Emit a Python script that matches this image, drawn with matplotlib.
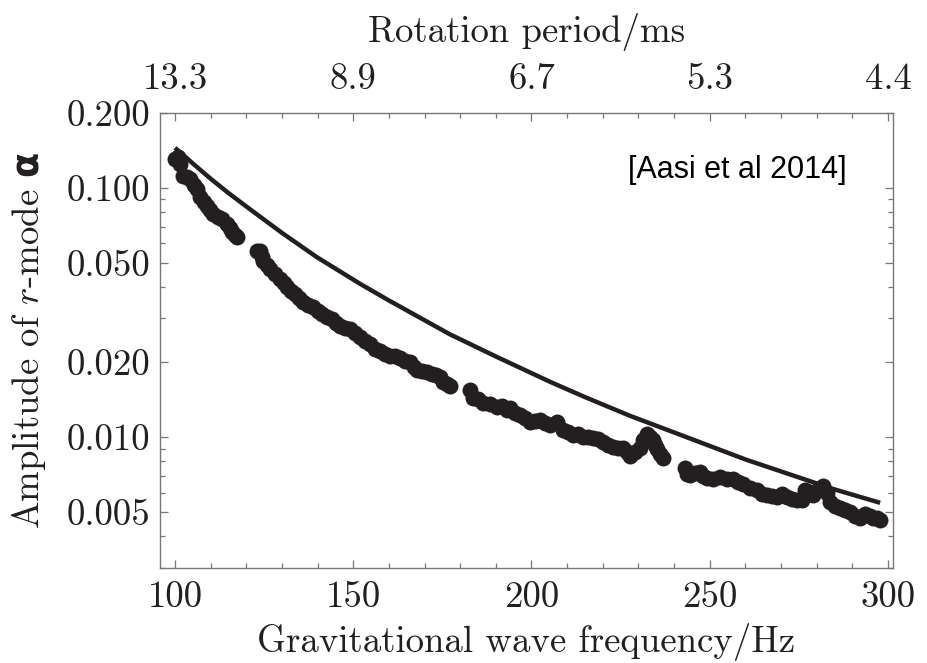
import matplotlib
matplotlib.use('Agg')
import matplotlib.pyplot as plt
from matplotlib.ticker import FixedLocator, FixedFormatter, NullFormatter

# ---- data ----
freq = [100.0, 100.8, 101.4, 102.2, 103.4, 104.2, 105.3, 106.2, 107.0, 108.1,
        109.0, 109.8, 110.7, 112.1, 113.2, 114.6, 115.4, 116.0, 116.8, 117.4,
        123.0, 123.8, 124.4, 124.7, 125.8, 126.6, 128.1, 129.5, 130.6, 131.4,
        132.5, 133.7, 134.8, 135.9, 137.3, 138.7, 140.1, 141.2, 142.6, 144.0,
        145.2, 146.3, 147.7, 149.1, 150.5, 151.9, 153.3, 154.7, 156.1, 157.5,
        158.9, 160.3, 161.7, 163.1, 164.5, 165.9, 167.0, 167.9, 169.3, 170.7,
        172.1, 173.2, 174.3, 175.2, 176.3, 177.1,
        182.7, 183.6, 185.0, 186.4, 188.4, 190.3, 191.7, 193.1, 194.0, 195.4,
        196.8, 198.2, 199.6, 201.0, 202.4, 203.8, 205.2, 207.2, 208.8, 210.2,
        211.6, 213.0, 214.4, 215.8, 217.3, 218.7, 220.1, 221.5, 222.9, 224.3,
        225.7, 226.8, 227.6, 229.0, 230.4, 231.3, 232.4, 233.2, 234.1, 234.6,
        235.2, 236.0, 236.9,
        243.1, 243.7, 244.5, 245.9, 247.3, 248.2, 249.2, 250.9, 252.9, 254.9,
        256.5, 257.9, 259.3, 261.3, 263.3, 264.7, 266.1, 267.5, 268.9, 270.3,
        271.7, 273.1, 274.5, 275.9, 276.7, 278.1, 279.0, 280.4, 281.8, 282.9,
        283.7, 285.1, 286.5, 287.9, 289.3, 290.7, 292.1, 293.5, 294.9, 295.8,
        296.9, 297.8]
amp = [0.1308, 0.1332, 0.1249, 0.1117, 0.1107, 0.1087, 0.1028, 0.0991, 0.0920, 0.0878,
       0.0847, 0.0816, 0.0786, 0.0765, 0.0751, 0.0717, 0.0691, 0.0666, 0.0647, 0.0635,
       0.0558, 0.0558, 0.0528, 0.0509, 0.0490, 0.0472, 0.0451, 0.0431, 0.0415, 0.0400,
       0.0385, 0.0375, 0.0361, 0.0348, 0.0338, 0.0332, 0.0320, 0.0311, 0.0303, 0.0297,
       0.0287, 0.0279, 0.0274, 0.0271, 0.0261, 0.0252, 0.0243, 0.0236, 0.0227, 0.0221,
       0.0215, 0.0211, 0.0211, 0.0209, 0.0203, 0.0200, 0.0192, 0.0187, 0.0185, 0.0182,
       0.0179, 0.0177, 0.0175, 0.0166, 0.0164, 0.0160,
       0.01555, 0.01444, 0.01418, 0.01379, 0.01354, 0.01329, 0.01341, 0.01292, 0.01316, 0.01257,
       0.01234, 0.01200, 0.01157, 0.01167, 0.01178, 0.01146, 0.01125, 0.01157, 0.01074, 0.01054,
       0.01025, 0.01035, 0.01006, 0.01006, 0.00997, 0.00988, 0.00961, 0.00935, 0.00918, 0.00909,
       0.00909, 0.00876, 0.00844, 0.00876, 0.00909, 0.00979, 0.01035, 0.01006, 0.00979, 0.00935,
       0.00901, 0.00860, 0.00829,
       0.00755, 0.00715, 0.00708, 0.00721, 0.00728, 0.00702, 0.00689, 0.00682, 0.00695, 0.00682,
       0.00682, 0.00664, 0.00651, 0.00628, 0.00616, 0.00594, 0.00588, 0.00583, 0.00578, 0.00594,
       0.00578, 0.00567, 0.00562, 0.00562, 0.00616, 0.00605, 0.00588, 0.00616, 0.00639, 0.00599,
       0.00551, 0.00531, 0.00522, 0.00512, 0.00503, 0.00484, 0.00476, 0.00493, 0.00484, 0.00476,
       0.00476, 0.00467]

curve_freq = [100.0, 105.0, 110.0, 115.0, 121.0, 130.0, 139.8, 151.9, 160.0, 177.1,
              190.0, 205.2, 215.0, 227.6, 247.3, 260.0, 269.7, 285.0, 297.8]
curve_amp = [0.145, 0.1255, 0.109, 0.0955, 0.0823, 0.0661, 0.0528, 0.0413, 0.0354, 0.0259,
             0.0211, 0.0167, 0.0145, 0.0122, 0.00955, 0.00815, 0.00732, 0.00618, 0.00546]

x_ticks = [100, 150, 200, 250, 300]
x_ticklabels = ['100', '150', '200', '250', '300']
period_labels = ['13.3', '8.9', '6.7', '5.3', '4.4']
y_ticks = [0.005, 0.01, 0.02, 0.05, 0.1, 0.2]
y_ticklabels = ['0.005', '0.010', '0.020', '0.050', '0.100', '0.200']
y_minor = [0.003, 0.004, 0.006, 0.007, 0.008, 0.009, 0.03, 0.04, 0.06, 0.07, 0.08, 0.09]
x_minor = list(range(100, 301, 10))

# ---- style ----
plt.rcParams['font.family'] = ['cmr10', 'DejaVu Sans']
plt.rcParams['mathtext.fontset'] = 'custom'
plt.rcParams['mathtext.rm'] = 'cmr10'
plt.rcParams['mathtext.it'] = 'cmmi10'
plt.rcParams['mathtext.sf'] = 'DejaVu Sans:bold'
plt.rcParams['axes.unicode_minus'] = False

ink = '#231f20'
frame = '#777777'
fs = 26.5

fig = plt.figure(figsize=(9.28, 6.63), dpi=100)
ax = fig.add_axes([160/928, 1-568/663, (893-160)/928, (568-113)/663])

ax.plot(curve_freq, curve_amp, color=ink, lw=3.2, zorder=2, solid_capstyle='butt')
ax.plot(freq, amp, 'o', color=ink, ms=11.5, mec='none', zorder=3)

ax.set_yscale('log')
ax.set_xlim(95.8, 301.4)
ax.set_ylim(0.00299, 0.2)

ax.xaxis.set_major_locator(FixedLocator(x_ticks))
ax.xaxis.set_major_formatter(FixedFormatter(x_ticklabels))
ax.xaxis.set_minor_locator(FixedLocator(x_minor))
ax.xaxis.set_minor_formatter(NullFormatter())
ax.yaxis.set_major_locator(FixedLocator(y_ticks))
ax.yaxis.set_major_formatter(FixedFormatter(y_ticklabels))
ax.yaxis.set_minor_locator(FixedLocator(y_minor))
ax.yaxis.set_minor_formatter(NullFormatter())

for sp in ax.spines.values():
    sp.set_color(frame)
    sp.set_linewidth(1.0)

ax.tick_params(which='both', direction='in', color=frame, width=0.9,
               right=True, labelsize=fs, labelcolor=ink)
ax.tick_params(which='major', length=6)
ax.tick_params(which='minor', length=3.5)
ax.tick_params(axis='x', pad=9)
ax.tick_params(axis='y', pad=7)

# top axis: rotation period
ax2 = ax.twiny()
ax2.set_xlim(ax.get_xlim())
ax2.xaxis.set_major_locator(FixedLocator(x_ticks))
ax2.xaxis.set_major_formatter(FixedFormatter(period_labels))
ax2.xaxis.set_minor_locator(FixedLocator(x_minor))
ax2.xaxis.set_minor_formatter(NullFormatter())
ax2.tick_params(which='both', direction='in', color=frame, width=0.9,
                labelsize=fs, labelcolor=ink, pad=12)
ax2.tick_params(which='major', length=6)
ax2.tick_params(which='minor', length=3.5)
for sp in ax2.spines.values():
    sp.set_visible(False)

ax.set_xlabel('Gravitational wave frequency/Hz', fontsize=fs, color=ink, labelpad=7)
ax2.set_xlabel('Rotation period/ms', fontsize=fs, color=ink, labelpad=15)
ax.set_ylabel('Amplitude of $r$-mode $\\mathsf{\\alpha}$', fontsize=fs, color=ink, labelpad=13)

ax.text(0.787, 0.875, '[Aasi et al 2014]', transform=ax.transAxes,
        family='Liberation Sans', fontsize=22, color='black',
        ha='center', va='center')

fig.savefig('out.png', dpi=100)
